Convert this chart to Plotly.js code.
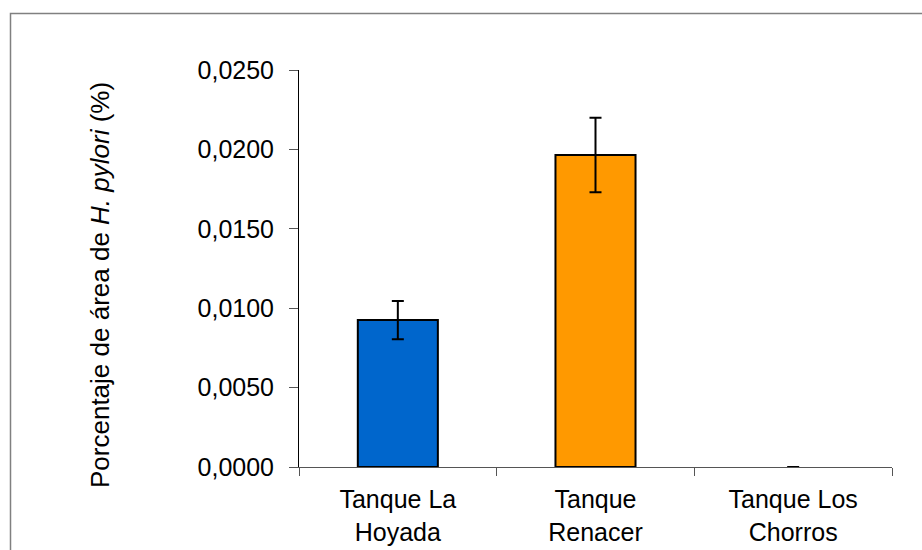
<!DOCTYPE html>
<html>
<head>
<meta charset="utf-8">
<script src="https://cdn.plot.ly/plotly-3.0.1.min.js"></script>
<style>
  html, body { margin: 0; padding: 0; background: #ffffff; }
  #chart { width: 922px; height: 550px; }
</style>
</head>
<body>
<div id="chart"></div>
<script>
// Data
var categories = ["Tanque La<br>Hoyada", "Tanque<br>Renacer", "Tanque Los<br>Chorros"];
var values = [0.00925, 0.01965, 0.0];
var errors = [0.00120, 0.00235, 0.0];
var barColors = ["#0066CC", "#FF9900", "#FFFFFF"];
var barLineColors = ["#000000", "#000000", "rgba(0,0,0,0)"];
var yTickValues = [0, 0.005, 0.01, 0.015, 0.02, 0.025];
var yTitle = "Porcentaje de área de <i>H. pylori</i> (%)";

var W = 922, H = 550;
var mL = 299, mR = 30, mT = 70, mB = 83;
var pw = W - mL - mR, ph = H - mT - mB;
function px2x(x) { return (x - mL) / pw; }
function px2y(y) { return (H - mB - y) / ph; }

var trace = {
  type: "bar",
  x: categories,
  y: values,
  marker: { color: barColors, line: { color: barLineColors, width: 2 } },
  error_y: { type: "data", array: errors, visible: true, color: "#000000", thickness: 2, width: 6 },
  hoverinfo: "none"
};

var layout = {
  width: W, height: H,
  margin: { l: mL, r: mR, t: mT, b: mB, pad: 0 },
  paper_bgcolor: "#ffffff",
  plot_bgcolor: "#ffffff",
  separators: ",.",
  showlegend: false,
  bargap: 0.595,
  font: { family: "Liberation Sans, Arial, sans-serif", size: 25, color: "#000000" },
  xaxis: {
    type: "category",
    showline: true, linecolor: "#555555", linewidth: 1,
    ticks: "outside", tickson: "boundaries", ticklen: 8, tickcolor: "#555555", tickwidth: 1,
    showgrid: false, zeroline: false,
    tickfont: { size: 25, color: "#000000" },
    ticklabelstandoff: 10,
    automargin: false
  },
  yaxis: {
    range: [0, 0.025],
    tickvals: yTickValues,
    tickformat: ".4f",
    showline: true, linecolor: "#000000", linewidth: 1,
    ticks: "outside", ticklen: 9, tickcolor: "#555555", tickwidth: 1,
    showgrid: false, zeroline: false,
    tickfont: { size: 25, color: "#000000" },
    ticklabelstandoff: 10,
    automargin: false
  },
  annotations: [{
    text: yTitle,
    xref: "paper", yref: "paper",
    x: px2x(100), y: px2y(285),
    xanchor: "center", yanchor: "middle",
    textangle: -90,
    showarrow: false,
    font: { size: 26, color: "#000000" }
  }],
  shapes: [{
    type: "rect", xref: "paper", yref: "paper",
    x0: px2x(10.5), x1: px2x(930), y0: px2y(560), y1: px2y(13.5),
    line: { color: "#808080", width: 1.5 },
    fillcolor: "rgba(0,0,0,0)",
    layer: "below"
  }]
};

Plotly.newPlot("chart", [trace], layout, { staticPlot: true, displayModeBar: false });
</script>
</body>
</html>
